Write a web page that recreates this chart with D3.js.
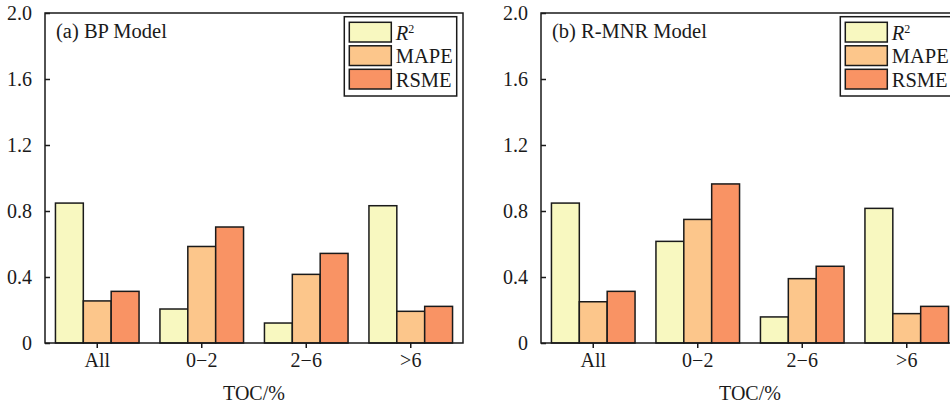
<!DOCTYPE html>
<html>
<head>
<meta charset="utf-8">
<script src="https://cdn.jsdelivr.net/npm/d3@7"></script>
<style>
  body { margin: 0; background: #fff; }
  text { font-family: "Liberation Serif", "Times New Roman", serif; fill: #1a1a1a; }
</style>
</head>
<body>
<div id="plot"></div>
<script>
var groups = ["All", "0\u22122", "2\u22126", ">6"];
var metrics = ["R2", "MAPE", "RSME"];
var yTicks = [0, 0.4, 0.8, 1.2, 1.6, 2.0];
var yTickLabels = ["0", "0.4", "0.8", "1.2", "1.6", "2.0"];

// values per group: [R2, MAPE, RSME]
var bpValues = [
  [0.848, 0.255, 0.313],
  [0.206, 0.585, 0.703],
  [0.121, 0.416, 0.543],
  [0.832, 0.192, 0.222]
];
var rmnrValues = [
  [0.848, 0.250, 0.313],
  [0.616, 0.749, 0.964],
  [0.158, 0.390, 0.465],
  [0.816, 0.178, 0.222]
];

var panels = [
  { title: "(a) BP Model", values: bpValues, left: 45 },
  { title: "(b) R-MNR Model", values: rmnrValues, left: 541 }
];

function colorScale(m) {
  if (m == "R2") return "#f8f8c0";
  if (m == "MAPE") return "#fcc68b";
  return "#f99364";
}

function drawChart() {
  var width = 950, height = 405;
  var plotTop = 13, plotBottom = 343, panelWidth = 418;
  var ink = "#1a1a1a";
  var serif = "'Liberation Serif', 'Times New Roman', serif";

  var svg = d3.select("#plot")
    .append("svg")
    .attr("width", width)
    .attr("height", height);

  var y = d3.scaleLinear().domain([0, 2]).range([plotBottom, plotTop]);

  panels.forEach(function (p) {
    var g = svg.append("g");

    var x = d3.scaleBand()
      .domain(groups)
      .range([p.left, p.left + panelWidth])
      .paddingInner(0.2)
      .paddingOuter(0.1);

    var xs = d3.scaleBand()
      .domain(metrics)
      .range([0, x.bandwidth()]);

    // bars
    var grp = g.selectAll("g.grp")
      .data(groups)
      .enter().append("g")
      .attr("class", "grp")
      .attr("transform", function (d) { return "translate(" + x(d) + ",0)"; });

    grp.selectAll("rect")
      .data(function (d, i) {
        return metrics.map(function (m, j) { return { m: m, v: p.values[i][j] }; });
      })
      .enter().append("rect")
      .attr("x", function (d) { return xs(d.m); })
      .attr("y", function (d) { return y(d.v); })
      .attr("width", xs.bandwidth())
      .attr("height", function (d) { return y(0) - y(d.v); })
      .style("fill", function (d) { return colorScale(d.m); })
      .style("stroke", ink)
      .style("stroke-width", 1.5);

    // frame
    g.append("rect")
      .attr("x", p.left)
      .attr("y", plotTop)
      .attr("width", panelWidth)
      .attr("height", plotBottom - plotTop)
      .style("fill", "none")
      .style("stroke", ink)
      .style("stroke-width", 1.5);

    // y axis, ticks inward
    var yAxis = d3.axisLeft(y)
      .tickValues(yTicks)
      .tickSize(-5)
      .tickPadding(13)
      .tickFormat(function (d, i) { return yTickLabels[i]; });

    var ya = g.append("g")
      .attr("transform", "translate(" + p.left + ",0)")
      .call(yAxis);
    ya.select(".domain").remove();
    ya.selectAll("line").style("stroke", ink).style("stroke-width", 1.5);
    ya.selectAll("text")
      .style("font-family", serif)
      .style("font-size", "20px")
      .attr("fill", ink);

    // x axis, ticks outward
    var xAxis = d3.axisBottom(x).tickSize(5).tickPadding(5);
    var xa = g.append("g")
      .attr("transform", "translate(0," + plotBottom + ")")
      .call(xAxis);
    xa.select(".domain").remove();
    xa.selectAll("line").style("stroke", ink).style("stroke-width", 1.5);
    xa.selectAll("text")
      .style("font-family", serif)
      .style("font-size", "20px")
      .attr("fill", ink);

    g.append("text")
      .attr("x", p.left + panelWidth / 2)
      .attr("y", 400)
      .style("text-anchor", "middle")
      .style("font-size", "20px")
      .text("TOC/%");

    g.append("text")
      .attr("x", p.left + 11)
      .attr("y", 38)
      .style("font-size", "20.5px")
      .text(p.title);

    // legend
    var lx = p.left + panelWidth - 118.7;
    var leg = g.append("g").attr("transform", "translate(" + lx + ",16.7)");
    leg.append("rect")
      .attr("width", 112.4)
      .attr("height", 79.3)
      .style("fill", "#fff")
      .style("stroke", ink)
      .style("stroke-width", 1.5);

    var item = leg.selectAll("g.item")
      .data(metrics)
      .enter().append("g")
      .attr("class", "item")
      .attr("transform", function (d, i) { return "translate(5," + (5.6 + i * 23.5) + ")"; });

    item.append("rect")
      .attr("width", 42)
      .attr("height", 19.7)
      .style("fill", function (d) { return colorScale(d); })
      .style("stroke", ink)
      .style("stroke-width", 1.5);

    item.append("text")
      .attr("x", 46.5)
      .attr("y", 17.5)
      .style("font-size", "20.5px")
      .each(function (d) {
        var t = d3.select(this);
        if (d == "R2") {
          t.append("tspan").style("font-style", "italic").text("R");
          t.append("tspan").attr("dy", -7).style("font-size", "12px").text("2");
        } else {
          t.text(d);
        }
      });
  });
}

drawChart();
</script>
</body>
</html>
